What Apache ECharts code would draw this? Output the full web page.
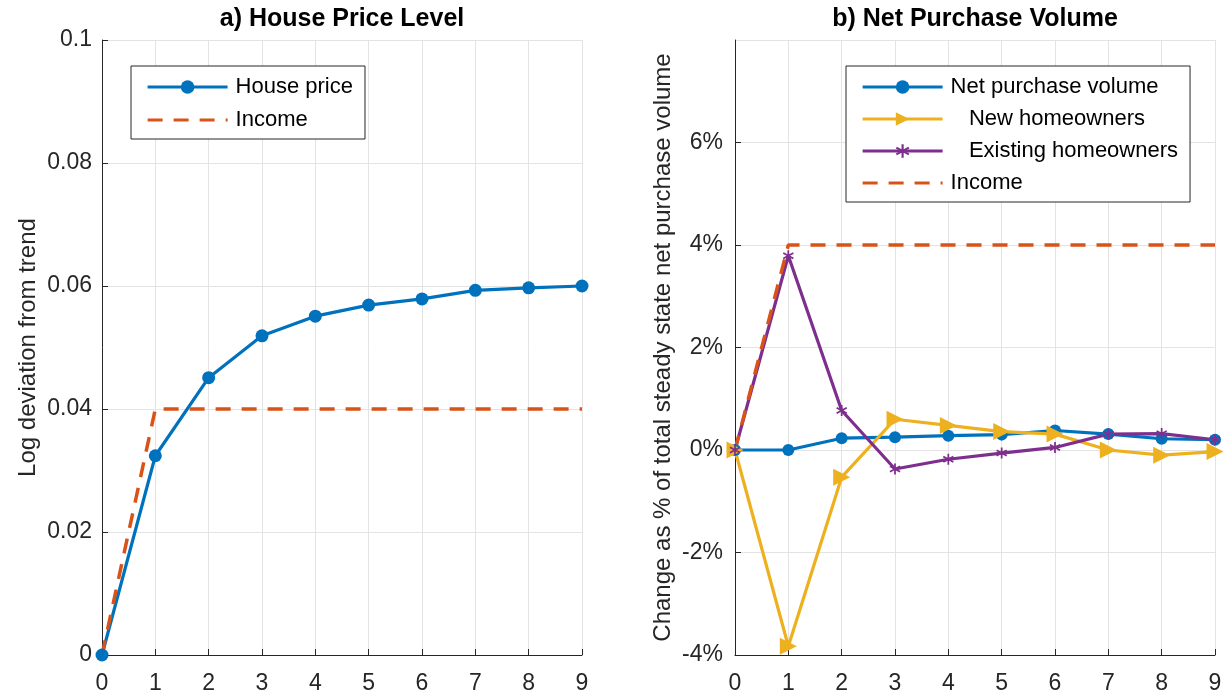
<!DOCTYPE html>
<html>
<head>
<meta charset="utf-8">
<script src="https://cdn.jsdelivr.net/npm/echarts@6/dist/echarts.min.js"></script>
<style>
  html, body { margin: 0; padding: 0; background: #fff; }
  #chart { width: 1230px; height: 695px; }
</style>
</head>
<body>
<div id="chart"></div>
<script>
// periods after the shock
const steps = [0, 1, 2, 3, 4, 5, 6, 7, 8, 9];

// a) house price level (log deviation from trend)
const housePrice = [0, 0.0324, 0.0451, 0.0519, 0.0551, 0.0569, 0.0579, 0.0593, 0.0597, 0.06];
const incomeLevel = [0, 0.04, 0.04, 0.04, 0.04, 0.04, 0.04, 0.04, 0.04, 0.04];

// b) net purchase volume (% of steady state)
const netPurchase = [0, 0, 0.23, 0.25, 0.28, 0.30, 0.38, 0.31, 0.22, 0.20];
const newOwners = [0, -3.83, -0.53, 0.60, 0.48, 0.36, 0.31, 0.0, -0.10, -0.03];
const existingOwners = [0, 3.79, 0.77, -0.37, -0.18, -0.06, 0.05, 0.31, 0.32, 0.20];
const incomePct = [0, 4, 4, 4, 4, 4, 4, 4, 4, 4];

const blue = '#0072BD', orange = '#D95319', yellow = '#EDB120', purple = '#7E2F8E';
const axisCol = '#262626', gridCol = '#e3e3e3';
const font = "'Liberation Sans', Arial, Helvetica, sans-serif";

// asterisk marker like matlab '*'
const starPath = 'path://M-0.15,-1L0.15,-1L0.15,1L-0.15,1Z' +
  'M0.791,-0.630L0.941,-0.370L-0.791,0.630L-0.941,0.370Z' +
  'M-0.941,-0.370L-0.791,-0.630L0.941,0.370L0.791,0.630Z';

const pts = arr => steps.map((x, i) => [x, arr[i]]);

function xAx(idx) {
  return {
    type: 'value', gridIndex: idx, min: 0, max: 9, interval: 1,
    axisLine: { onZero: false, lineStyle: { color: axisCol, width: 1 } },
    axisTick: { inside: true, length: 6, lineStyle: { color: axisCol } },
    axisLabel: { color: axisCol, fontSize: 23, margin: 17, fontFamily: font },
    splitLine: { show: true, lineStyle: { color: gridCol, width: 1 } }
  };
}

function yAx(idx, extra) {
  return Object.assign({
    type: 'value', gridIndex: idx,
    nameLocation: 'middle',
    nameTextStyle: { color: axisCol, fontSize: 24, fontFamily: font },
    axisLine: { show: true, onZero: false, lineStyle: { color: axisCol, width: 1 } },
    axisTick: { show: true, inside: true, length: 6, lineStyle: { color: axisCol } },
    axisLabel: { color: axisCol, fontSize: 23, margin: 10, fontFamily: font },
    splitLine: { show: true, lineStyle: { color: gridCol, width: 1 } }
  }, extra);
}

const legendBase = {
  orient: 'vertical', top: 66, itemWidth: 80, itemHeight: 17,
  borderColor: axisCol, borderWidth: 1, backgroundColor: '#fff',
  borderRadius: 0, padding: [10, 12, 8, 15],
  lineStyle: { width: 3.2 },
  textStyle: { color: '#000', fontSize: 22, fontFamily: font, padding: [0, 0, 0, 3] },
  selectedMode: false
};

const chart = echarts.init(document.getElementById('chart'), null, { renderer: 'canvas' });

chart.setOption({
  animation: false,
  textStyle: { fontFamily: font },
  title: [
    { text: 'a) House Price Level', left: 342, top: 7, textAlign: 'center', padding: 0,
      textStyle: { fontSize: 25, fontWeight: 'bold', color: '#000', fontFamily: font } },
    { text: 'b) Net Purchase Volume', left: 975, top: 7, textAlign: 'center', padding: 0,
      textStyle: { fontSize: 25, fontWeight: 'bold', color: '#000', fontFamily: font } }
  ],
  grid: [
    { left: 102, right: 648, top: 40, bottom: 40 },
    { left: 735, right: 15, top: 40, bottom: 40 }
  ],
  xAxis: [xAx(0), xAx(1)],
  yAxis: [
    yAx(0, { min: 0, max: 0.1, interval: 0.02, name: 'Log deviation from trend', nameGap: 62 }),
    yAx(1, { min: -4, max: 8, interval: 2, name: 'Change as % of total steady state net purchase volume',
      nameGap: 60,
      axisLabel: { color: axisCol, fontSize: 23, margin: 12, fontFamily: font, showMaxLabel: false,
        formatter: v => v + '%' } })
  ],
  legend: [
    Object.assign({}, legendBase, { left: 131, itemGap: 11,
      data: ['House price', { name: 'Income', itemStyle: { opacity: 0 } }] }),
    Object.assign({}, legendBase, { left: 846, itemGap: 10,
      data: ['Net purchase volume', '   New homeowners', '   Existing homeowners',
        { name: 'Income', itemStyle: { opacity: 0 } }] })
  ],
  series: [
    { name: 'House price', type: 'line', xAxisIndex: 0, yAxisIndex: 0, data: pts(housePrice),
      symbol: 'circle', symbolSize: 13, color: blue,
      lineStyle: { width: 3.2, color: blue }, itemStyle: { color: blue } },
    { name: 'Income', type: 'line', xAxisIndex: 0, yAxisIndex: 0, data: pts(incomeLevel),
      symbol: 'none', color: orange,
      lineStyle: { width: 3.5, color: orange, type: [15, 11] } },
    { name: 'Net purchase volume', type: 'line', xAxisIndex: 1, yAxisIndex: 1, data: pts(netPurchase),
      symbol: 'circle', symbolSize: 12, color: blue,
      lineStyle: { width: 3.2, color: blue }, itemStyle: { color: blue } },
    { name: '   New homeowners', type: 'line', xAxisIndex: 1, yAxisIndex: 1, data: pts(newOwners),
      symbol: 'triangle', symbolRotate: -90, symbolSize: 17, color: yellow,
      lineStyle: { width: 3.2, color: yellow }, itemStyle: { color: yellow } },
    { name: '   Existing homeowners', type: 'line', xAxisIndex: 1, yAxisIndex: 1, data: pts(existingOwners),
      symbol: starPath, symbolSize: 11, color: purple,
      lineStyle: { width: 3.2, color: purple }, itemStyle: { color: purple } },
    { name: 'Income', type: 'line', xAxisIndex: 1, yAxisIndex: 1, data: pts(incomePct),
      symbol: 'none', color: orange,
      lineStyle: { width: 3.5, color: orange, type: [15, 11] } }
  ]
});
</script>
</body>
</html>
